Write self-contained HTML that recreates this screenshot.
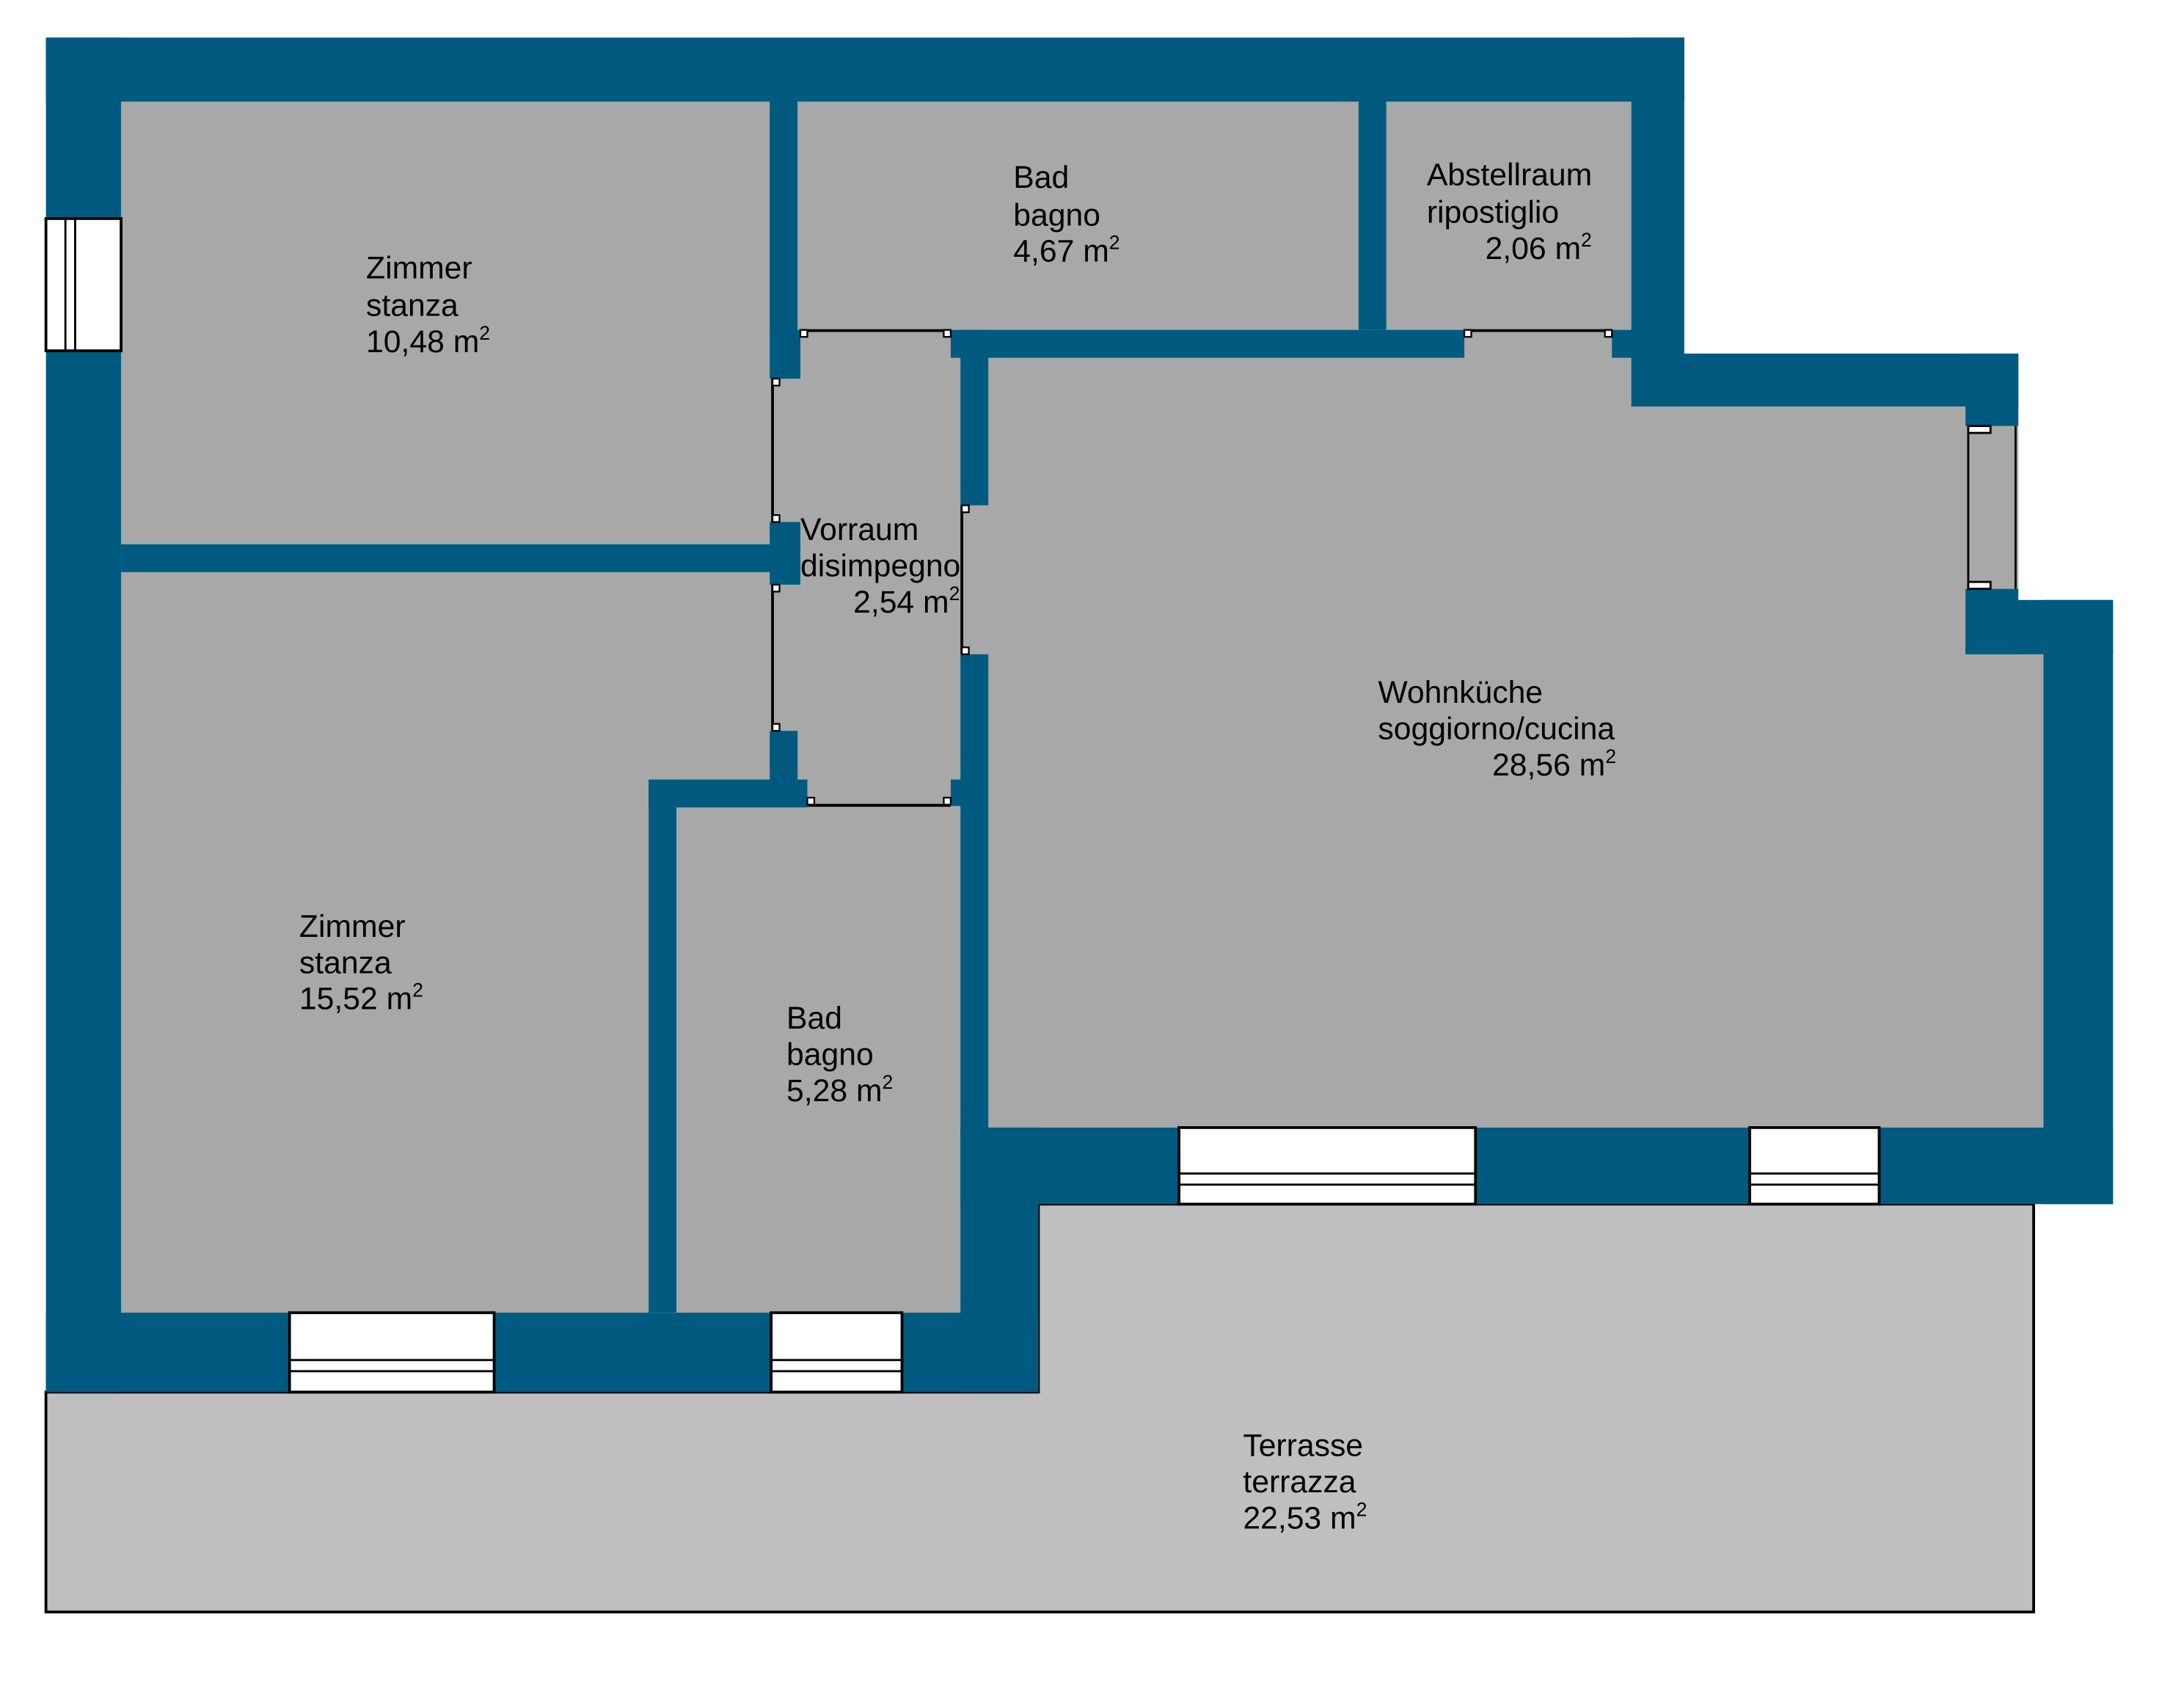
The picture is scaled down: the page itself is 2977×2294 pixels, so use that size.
<!DOCTYPE html>
<html><head><meta charset="utf-8">
<style>html,body{margin:0;padding:0;background:#fff;}svg{display:block;}</style>
</head><body>
<svg width="2977" height="2294" viewBox="0 0 1569 1209" preserveAspectRatio="none" xmlns="http://www.w3.org/2000/svg" font-family="Liberation Sans, sans-serif" font-size="22.5">
<path d="M33,1000 H746 V865 H1461 V1158 H33 Z" fill="#bfbfbf" stroke="#000" stroke-width="2"/>
<g fill="#a8a8a8">
<rect x="87" y="73" width="470" height="320"/>
<rect x="573" y="73" width="405" height="166"/>
<rect x="996" y="73" width="178" height="166"/>
<rect x="555" y="237" width="136" height="342"/>
<rect x="87" y="409" width="468" height="153"/>
<rect x="87" y="409" width="381" height="536"/>
<rect x="486" y="579" width="206" height="366"/>
<rect x="688" y="360" width="24" height="112"/>
<rect x="1050" y="236" width="110" height="24"/>
<path d="M708,255 H1172 V290 H1414 V468 H1468 V812 H708 Z"/>
<rect x="1412" y="306" width="38" height="117"/>
</g>
<g fill="#005a80">
<rect x="33" y="27" width="1177" height="46"/>
<rect x="33" y="27" width="54" height="130"/>
<rect x="33" y="252" width="54" height="748"/>
<rect x="33" y="943" width="175" height="57"/>
<rect x="355" y="943" width="199" height="57"/>
<rect x="648" y="943" width="98" height="57"/>
<rect x="690" y="810" width="56" height="190"/>
<rect x="690" y="810" width="157" height="55"/>
<rect x="1060" y="810" width="197" height="55"/>
<rect x="1350" y="810" width="168" height="55"/>
<rect x="1468" y="431" width="50" height="434"/>
<rect x="1412" y="431" width="106" height="39"/>
<rect x="1412" y="423" width="38" height="47"/>
<rect x="1412" y="254" width="38" height="52"/>
<rect x="1172" y="254" width="278" height="38"/>
<rect x="1172" y="27" width="38" height="265"/>
<rect x="1158" y="237" width="20" height="20"/>
<rect x="976" y="73" width="20" height="164"/>
<rect x="683" y="237" width="369" height="20"/>
<rect x="690" y="237" width="20" height="126"/>
<rect x="690" y="470" width="20" height="345"/>
<rect x="683" y="560" width="10" height="19"/>
<rect x="553" y="73" width="20" height="199"/>
<rect x="553" y="237" width="22" height="35"/>
<rect x="87" y="391" width="488" height="20"/>
<rect x="553" y="375" width="22" height="45"/>
<rect x="553" y="525" width="20" height="54"/>
<rect x="466" y="560" width="114" height="20"/>
<rect x="466" y="560" width="20" height="383"/>
</g>
<g stroke="#000" stroke-width="2" fill="none">
<line x1="575" y1="237.5" x2="683" y2="237.5"/>
<line x1="1052" y1="237.5" x2="1158" y2="237.5"/>
<line x1="555" y1="272" x2="555" y2="375"/>
<line x1="555" y1="420" x2="555" y2="525"/>
<line x1="691" y1="363" x2="691" y2="470"/>
<line x1="580" y1="578.5" x2="683" y2="578.5"/>
</g>
<g fill="#fff" stroke="#000" stroke-width="1.2">
<rect x="575" y="237" width="5" height="5"/><rect x="678" y="237" width="5" height="5"/>
<rect x="1052" y="237" width="5" height="5"/><rect x="1153" y="237" width="5" height="5"/>
<rect x="555" y="272" width="5" height="5"/><rect x="555" y="370" width="5" height="5"/>
<rect x="555" y="420" width="5" height="5"/><rect x="555" y="520" width="5" height="5"/>
<rect x="691" y="363" width="5" height="5"/><rect x="691" y="465" width="5" height="5"/>
<rect x="580" y="573" width="5" height="5"/><rect x="678" y="573" width="5" height="5"/>
</g>
<g fill="#fff" stroke="#000" stroke-width="2">
<rect x="33" y="157" width="54" height="95"/>
<rect x="208" y="943" width="147" height="57"/>
<rect x="554" y="943" width="94" height="57"/>
<rect x="847" y="810" width="213" height="55"/>
<rect x="1257" y="810" width="93" height="55"/>
</g>
<g fill="none" stroke="#000" stroke-width="1.5">
<rect x="47" y="157" width="7" height="95"/>
<rect x="208" y="977" width="147" height="8"/>
<rect x="554" y="977" width="94" height="8"/>
<rect x="847" y="843" width="213" height="8"/>
<rect x="1257" y="843" width="93" height="8"/>
<line x1="1414" y1="306" x2="1414" y2="423"/>
<line x1="1448" y1="306" x2="1448" y2="423"/>
<rect x="1414" y="306" width="16" height="5" fill="#fff"/>
<rect x="1414" y="418" width="16" height="5" fill="#fff"/>
</g>
<g fill="#000">
<text x="263" y="200">Zimmer</text><text x="263" y="227">stanza</text><text x="263" y="253">10,48 m<tspan font-size="14" dy="-9">2</tspan></text>
<text x="728" y="135">Bad</text><text x="728" y="162">bagno</text><text x="728" y="188">4,67 m<tspan font-size="14" dy="-9">2</tspan></text>
<text x="1025" y="133">Abstellraum</text><text x="1025" y="160">ripostiglio</text><text x="1067" y="186">2,06 m<tspan font-size="14" dy="-9">2</tspan></text>
<text x="575" y="388">Vorraum</text><text x="575" y="414">disimpegno</text><text x="613" y="440">2,54 m<tspan font-size="14" dy="-9">2</tspan></text>
<text x="990" y="505">Wohnküche</text><text x="990" y="531">soggiorno/cucina</text><text x="1072" y="557">28,56 m<tspan font-size="14" dy="-9">2</tspan></text>
<text x="215" y="673">Zimmer</text><text x="215" y="699">stanza</text><text x="215" y="725">15,52 m<tspan font-size="14" dy="-9">2</tspan></text>
<text x="565" y="739">Bad</text><text x="565" y="765">bagno</text><text x="565" y="791">5,28 m<tspan font-size="14" dy="-9">2</tspan></text>
<text x="893" y="1046">Terrasse</text><text x="893" y="1072">terrazza</text><text x="893" y="1098">22,53 m<tspan font-size="14" dy="-9">2</tspan></text>
</g>
</svg>
</body></html>
